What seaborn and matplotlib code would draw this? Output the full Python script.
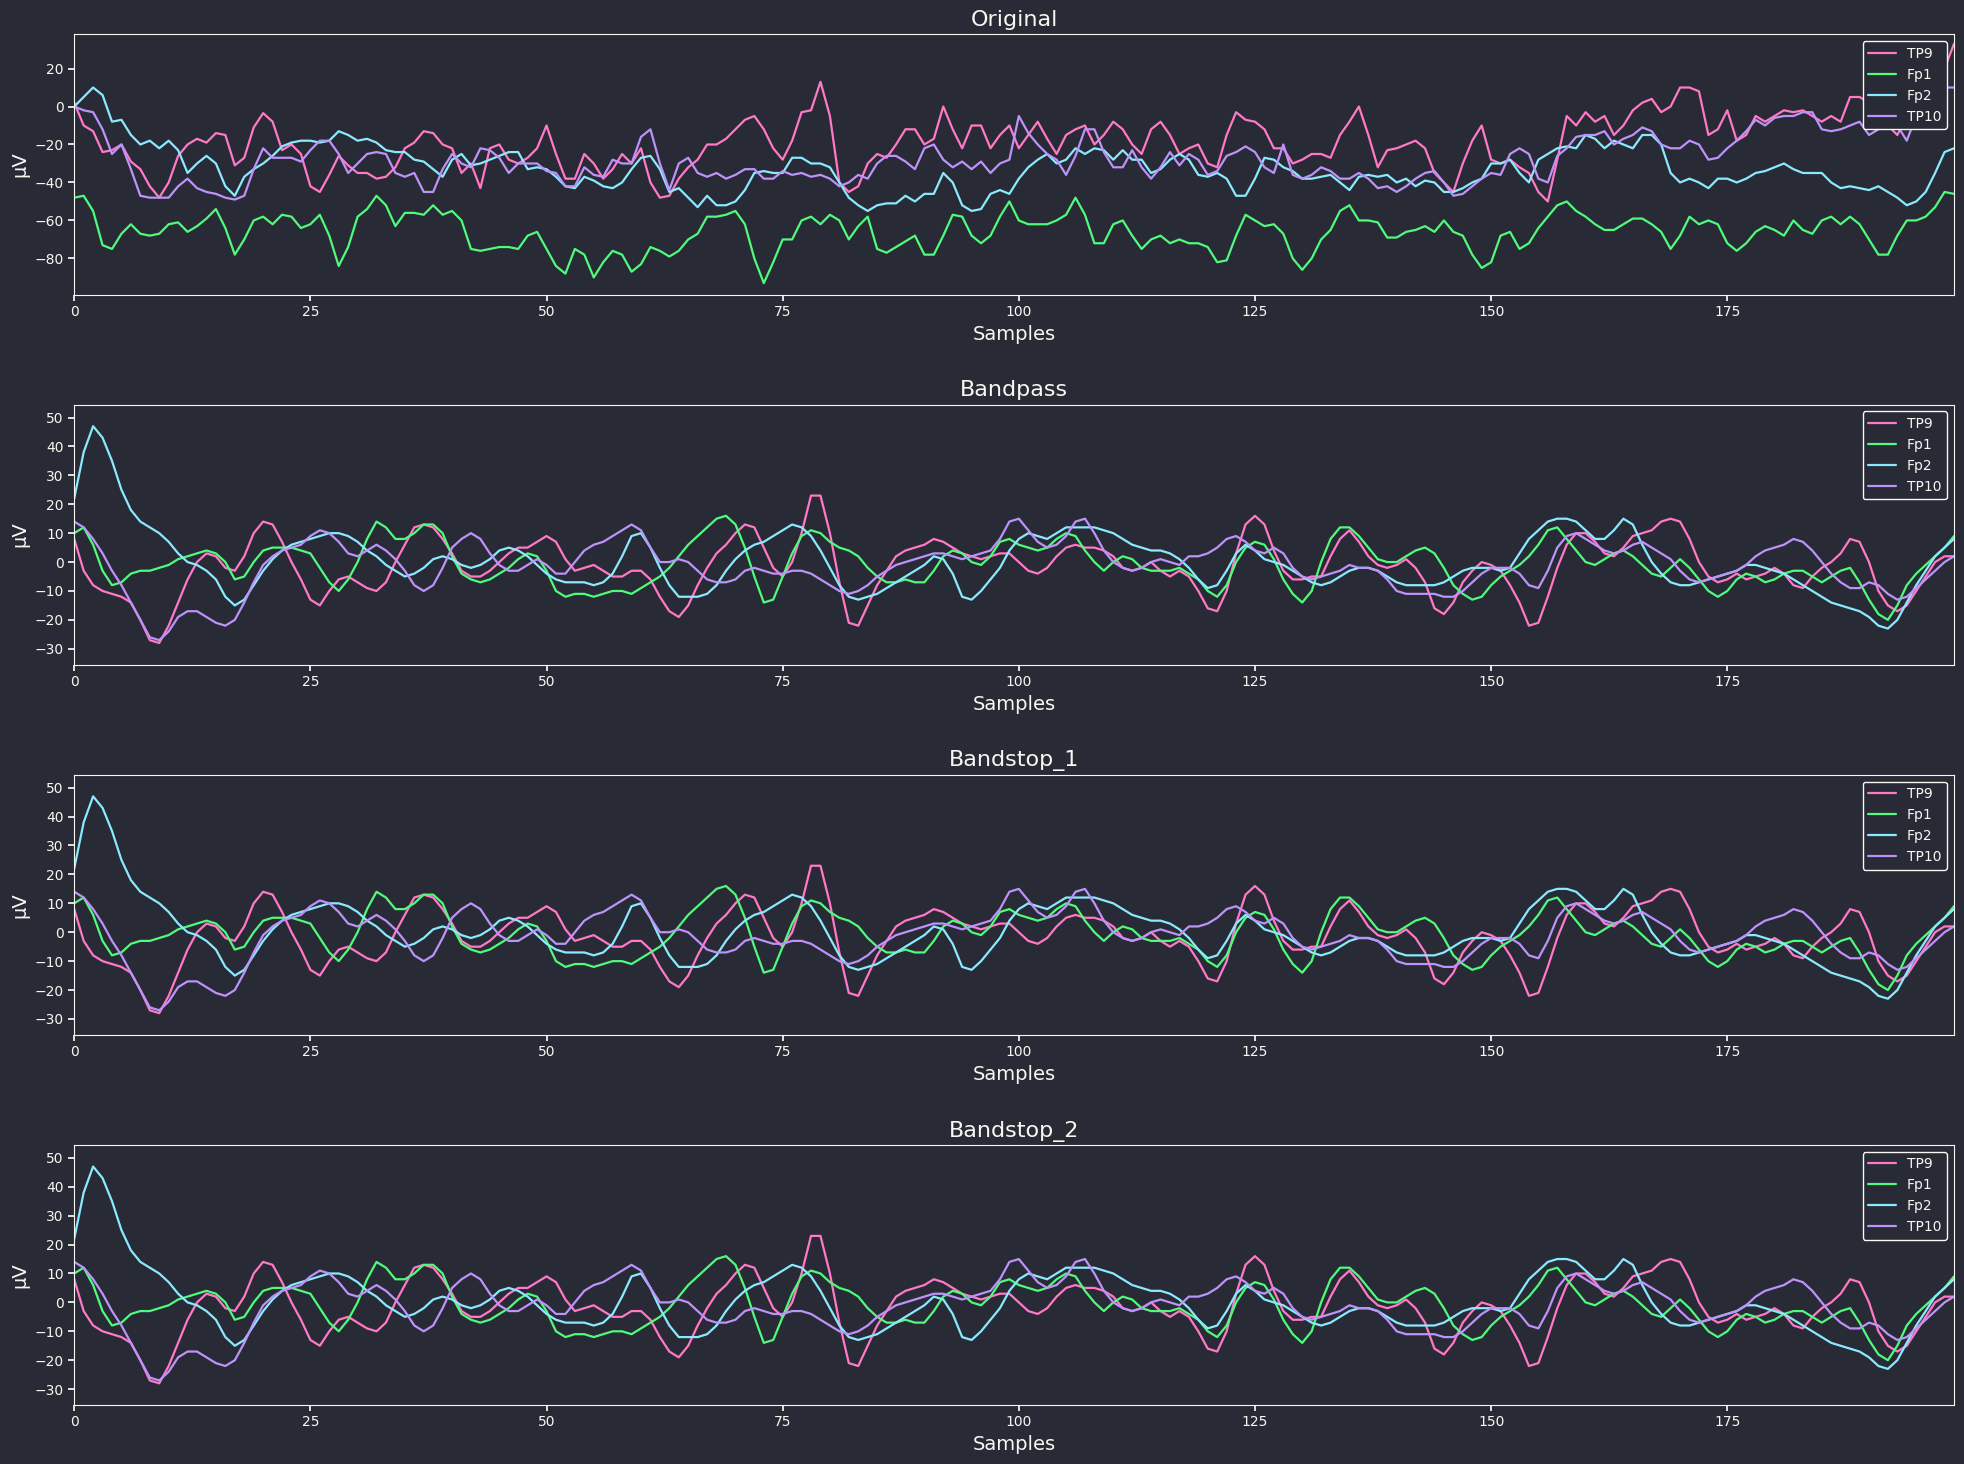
import numpy as np
import pandas as pd
import seaborn as sns
import matplotlib
matplotlib.use("Agg")
import matplotlib.pyplot as plt

channels = ["TP9", "Fp1", "Fp2", "TP10"]
panel_titles = ["Original", "Bandpass", "Bandstop_1", "Bandstop_2"]

orig_tp9 = [2,-10,-13,-24,-23,-20,-29,-33,-42,-48,-40,-26,-20,-17,-19,-14,-15,-31,-27,-11,
            -3.5,-8,-23,-20,-25,-42,-45,-36,-26,-31,-35,-35,-38,-37,-32,-22,-19,-13,-14,-20,
            -22,-35,-30,-43,-22,-20,-28,-30,-27,-22,-10,-25,-38,-38,-25,-30,-38,-33,-25,-30,
            -22,-40,-48,-47,-38,-32,-28,-20,-20,-17,-12,-7,-5,-12,-22,-28,-18,-3,-2,13,
            -5,-40,-45,-42,-30,-25,-27,-20,-12,-12,-20,-17,0,-12,-22,-10,-10,-22,-15,-10,
            -22,-15,-8,-17,-25,-15,-12,-10,-20,-15,-8,-12,-20,-25,-12,-8,-15,-25,-22,-20,
            -30,-32,-15,-3,-7,-8,-12,-22,-22,-30,-28,-25,-25,-27,-15,-8,0,-15,-32,-23,
            -22,-20,-18,-22,-35,-40,-45,-30,-18,-10,-28,-30,-28,-32,-35,-45,-50,-28,-5,-10,
            -3,-8,-5,-15,-10,-2,2,4,-3,0,10,10,8,-15,-12,-2,-18,-15,-5,-8,
            -5,-2,-3,-2,-5,-8,-5,-8,5,5,2,15,-10,-15,-5,-10,2,10,20,33]
orig_fp1 = [-48,-47,-55,-73,-75,-67,-62,-67,-68,-67,-62,-61,-66,-63,-59,-54,-64,-78,-70,-60,
            -58,-62,-57,-58,-64,-62,-57,-68,-84,-74,-58,-54,-47,-52,-63,-56,-56,-57,-52,-57,
            -55,-60,-75,-76,-75,-74,-74,-75,-68,-66,-75,-84,-88,-75,-78,-90,-82,-76,-78,-87,
            -83,-74,-76,-79,-76,-70,-67,-58,-58,-57,-55,-62,-80,-93,-82,-70,-70,-60,-58,-62,
            -57,-60,-70,-63,-58,-75,-77,-74,-71,-68,-78,-78,-68,-57,-58,-68,-72,-68,-58,-50,
            -60,-62,-62,-62,-60,-57,-48,-57,-72,-72,-62,-60,-68,-75,-70,-68,-72,-70,-72,-72,
            -74,-82,-81,-68,-57,-60,-63,-62,-67,-80,-86,-80,-70,-65,-55,-52,-60,-60,-61,-69,
            -69,-66,-65,-63,-66,-60,-66,-68,-78,-85,-82,-68,-66,-75,-72,-64,-58,-52,-50,-55,
            -58,-62,-65,-65,-62,-59,-59,-62,-66,-75,-68,-58,-62,-60,-62,-72,-76,-72,-66,-63,
            -65,-68,-60,-65,-67,-60,-58,-62,-58,-62,-70,-78,-78,-68,-60,-60,-58,-53,-45,-46]
orig_fp2 = [0,5,10,6,-8,-7,-15,-20,-18,-22,-18,-23,-35,-30,-26,-30,-42,-47,-37,-33,
            -30,-26,-21,-19,-18,-18,-19,-18,-13,-15,-18,-17,-19,-23,-24,-24,-28,-29,-33,-37,
            -28,-25,-31,-30,-28,-26,-24,-24,-33,-32,-33,-37,-42,-43,-37,-39,-42,-43,-40,-33,
            -27,-26,-33,-45,-43,-48,-53,-47,-52,-52,-50,-44,-35,-34,-35,-35,-27,-27,-30,-30,
            -32,-40,-48,-52,-55,-52,-51,-51,-47,-50,-46,-46,-35,-40,-52,-55,-54,-46,-44,-46,
            -38,-32,-28,-25,-30,-28,-22,-25,-22,-23,-28,-23,-28,-28,-35,-33,-28,-25,-28,-36,
            -37,-35,-38,-47,-47,-38,-27,-28,-32,-34,-38,-38,-37,-36,-40,-44,-37,-36,-37,-36,
            -40,-38,-42,-39,-40,-45,-45,-43,-40,-38,-30,-30,-28,-35,-40,-28,-25,-22,-21,-22,
            -15,-17,-22,-18,-20,-22,-15,-15,-20,-35,-40,-38,-40,-43,-38,-38,-40,-38,-35,-34,
            -32,-30,-33,-35,-35,-35,-40,-43,-42,-43,-44,-42,-45,-48,-52,-50,-45,-35,-24,-22]
orig_tp10 = [0,-2,-3,-12,-25,-20,-33,-47,-48,-48,-48,-42,-38,-43,-45,-46,-48,-49,-47,-33,
             -22,-27,-27,-27,-29,-23,-18,-18,-25,-35,-30,-25,-24,-25,-35,-37,-35,-45,-45,-33,
             -25,-30,-32,-22,-23,-27,-35,-30,-30,-30,-34,-35,-42,-42,-32,-36,-37,-28,-30,-30,
             -16,-12,-30,-44,-30,-27,-35,-37,-35,-38,-36,-33,-33,-38,-38,-34,-36,-35,-37,-36,
             -38,-42,-40,-36,-38,-30,-26,-26,-29,-33,-22,-20,-28,-32,-29,-33,-29,-35,-30,-28,
             -5,-14,-20,-25,-28,-36,-26,-12,-12,-24,-32,-32,-23,-32,-38,-32,-24,-31,-25,-28,
             -36,-34,-26,-24,-21,-24,-32,-35,-20,-36,-38,-36,-32,-34,-38,-38,-35,-38,-43,-42,
             -45,-42,-38,-35,-34,-40,-47,-46,-42,-38,-35,-36,-25,-22,-25,-38,-40,-26,-22,-16,
             -15,-15,-13,-20,-17,-15,-11,-13,-20,-22,-22,-18,-20,-28,-27,-22,-18,-13,-7,-10,
             -6,-5,-5,-3,-3,-12,-13,-12,-10,-8,-15,-12,-8,-10,-18,-5,8,5,10,10]

bp_tp9 = [8,-3,-8,-10,-11,-12,-14,-20,-27,-28,-22,-14,-6,0,3,2,-2,-3,2,10,
          14,13,7,0,-6,-13,-15,-10,-6,-5,-7,-9,-10,-7,0,6,12,13,12,8,
          3,-3,-5,-5,-3,0,3,5,5,7,9,7,1,-3,-2,-1,-3,-5,-5,-3,
          -3,-6,-12,-17,-19,-15,-8,-2,3,6,10,13,12,5,-2,-5,0,10,23,23,
          10,-7,-21,-22,-15,-8,-3,2,4,5,6,8,7,5,3,2,1,2,3,3,
          0,-3,-4,-2,2,5,6,5,5,4,2,-2,-3,-2,0,-3,-5,-3,-5,-10,
          -16,-17,-10,3,13,16,13,4,-3,-6,-6,-5,-5,2,8,11,7,2,-1,-2,
          -1,1,-2,-7,-16,-18,-14,-7,-3,0,-1,-3,-8,-14,-22,-21,-12,-2,6,10,
          10,7,3,2,5,9,10,11,14,15,14,8,0,-5,-7,-6,-4,-6,-5,-4,
          -2,-4,-8,-9,-5,-2,0,3,8,7,0,-10,-15,-17,-15,-10,-5,0,2,2]
bp_fp1 = [10,12,6,-3,-8,-7,-4,-3,-3,-2,-1,1,2,3,4,3,0,-6,-5,0,
          4,5,5,5,4,3,-2,-7,-10,-6,0,8,14,12,8,8,10,13,13,10,
          2,-4,-6,-7,-6,-4,-2,1,3,2,-3,-10,-12,-11,-11,-12,-11,-10,-10,-11,
          -9,-7,-5,-2,2,6,9,12,15,16,13,5,-5,-14,-13,-5,3,9,11,10,
          7,5,4,2,-2,-5,-7,-7,-6,-7,-7,-3,2,4,3,0,-1,2,7,8,
          6,5,4,5,8,10,9,4,0,-3,0,2,1,-2,-3,-3,-3,-2,-4,-6,
          -10,-12,-8,0,5,7,6,1,-6,-11,-14,-10,0,8,12,12,9,5,1,0,
          0,2,4,5,3,-2,-8,-11,-13,-12,-8,-5,-3,-1,2,6,11,12,8,4,
          0,-1,1,3,4,2,-1,-4,-5,-2,1,-2,-6,-10,-12,-10,-6,-4,-5,-7,
          -6,-4,-3,-3,-5,-7,-5,-3,-2,-7,-13,-18,-20,-15,-8,-4,-1,2,5,9]
bp_fp2 = [22,38,47,43,35,25,18,14,12,10,7,3,0,-1,-3,-6,-12,-15,-13,-8,
          -3,1,4,6,7,8,9,10,10,9,7,4,2,-1,-3,-5,-4,-2,1,2,
          1,-1,-2,-1,1,4,5,4,2,-1,-4,-6,-7,-7,-7,-8,-7,-4,2,9,
          10,5,-2,-8,-12,-12,-12,-11,-8,-3,1,4,6,7,9,11,13,12,9,4,
          -2,-8,-12,-13,-12,-11,-9,-7,-5,-3,-1,2,1,-4,-12,-13,-10,-6,-2,4,
          8,10,9,8,10,12,12,12,12,11,10,8,6,5,4,4,3,1,-2,-6,
          -9,-8,-3,3,6,4,1,0,-1,-3,-5,-7,-8,-7,-5,-3,-2,-2,-3,-5,
          -7,-8,-8,-8,-8,-7,-5,-3,-2,-2,-2,-3,-2,3,8,11,14,15,15,14,
          11,8,8,11,15,13,6,0,-4,-7,-8,-8,-7,-6,-5,-4,-3,-1,-1,-2,
          -3,-4,-6,-8,-10,-12,-14,-15,-16,-17,-19,-22,-23,-20,-14,-8,-3,2,5,8]
bp_tp10 = [14,12,8,3,-3,-8,-14,-20,-26,-27,-24,-19,-17,-17,-19,-21,-22,-20,-14,-7,
           -1,2,4,5,6,9,11,10,7,3,2,4,6,4,1,-3,-8,-10,-8,-2,
           5,8,10,8,3,-1,-3,-3,-1,1,-1,-4,-4,0,4,6,7,9,11,13,
           11,5,0,0,1,0,-3,-6,-7,-7,-6,-3,-2,-3,-4,-4,-3,-3,-4,-6,
           -8,-10,-11,-10,-8,-5,-3,-1,0,1,2,3,3,2,1,2,3,4,8,14,
           15,11,7,5,6,9,14,15,10,4,0,-2,-3,-2,0,1,0,-1,2,2,
           3,5,8,9,7,4,3,5,3,-2,-5,-6,-5,-4,-3,-1,-2,-2,-3,-6,
           -10,-11,-11,-11,-11,-12,-12,-10,-7,-4,-2,-2,-2,-4,-8,-9,-3,5,9,10,
           8,6,4,3,4,6,7,5,3,1,-3,-6,-7,-6,-5,-4,-3,-1,2,4,
           5,6,8,7,4,0,-4,-7,-9,-9,-7,-8,-11,-13,-12,-9,-6,-3,0,2]

samples = np.arange(len(orig_tp9))
panels = [
    [orig_tp9, orig_fp1, orig_fp2, orig_tp10],
    [bp_tp9, bp_fp1, bp_fp2, bp_tp10],
    [bp_tp9, bp_fp1, bp_fp2, bp_tp10],
    [bp_tp9, bp_fp1, bp_fp2, bp_tp10],
]

bg = "#282a36"
palette = ["#ff79c6", "#50fa7b", "#8be9fd", "#bd93f9"]
fg = "#f8f8f2"

sns.set_theme(style="dark", rc={
    "figure.facecolor": bg, "axes.facecolor": bg, "axes.edgecolor": fg,
    "axes.labelcolor": fg, "text.color": fg, "xtick.color": fg, "ytick.color": fg,
    "axes.grid": False,
})
plt.rcParams["font.family"] = ["DejaVu Sans"]

fig, axes = plt.subplots(4, 1, figsize=(19.64, 14.64), dpi=100)
for ax, title, series in zip(axes, panel_titles, panels):
    df = pd.DataFrame({
        "Samples": np.tile(samples, 4),
        "value": np.concatenate([np.asarray(s, float) for s in series]),
        "channel": np.repeat(channels, len(samples)),
    })
    sns.lineplot(data=df, x="Samples", y="value", hue="channel", palette=palette,
                 ax=ax, linewidth=1.6)
    ax.set_xlim(0, len(samples) - 1)
    ax.set_title(title, fontsize=16, color=fg)
    ax.set_xlabel("Samples", fontsize=14)
    ax.set_ylabel("µV", fontsize=14)
    ax.tick_params(axis="both", labelsize=10, colors=fg, length=4, bottom=True, left=True)
    for sp in ax.spines.values():
        sp.set_color(fg)
        sp.set_linewidth(0.8)
    leg = ax.legend(loc="upper right", fontsize=10, facecolor=bg, edgecolor=fg, framealpha=1)
    for t in leg.get_texts():
        t.set_color(fg)
    if title != "Original":
        ax.set_yticks([-30, -20, -10, 0, 10, 20, 30, 40, 50])
        ax.set_ylim(-35.5, 54.5)
    else:
        ax.set_yticks([-80, -60, -40, -20, 0, 20])
        ax.set_ylim(-99, 38)

fig.tight_layout(pad=0.6, h_pad=2.2)
fig.savefig("out.png", dpi=100, facecolor=bg)
